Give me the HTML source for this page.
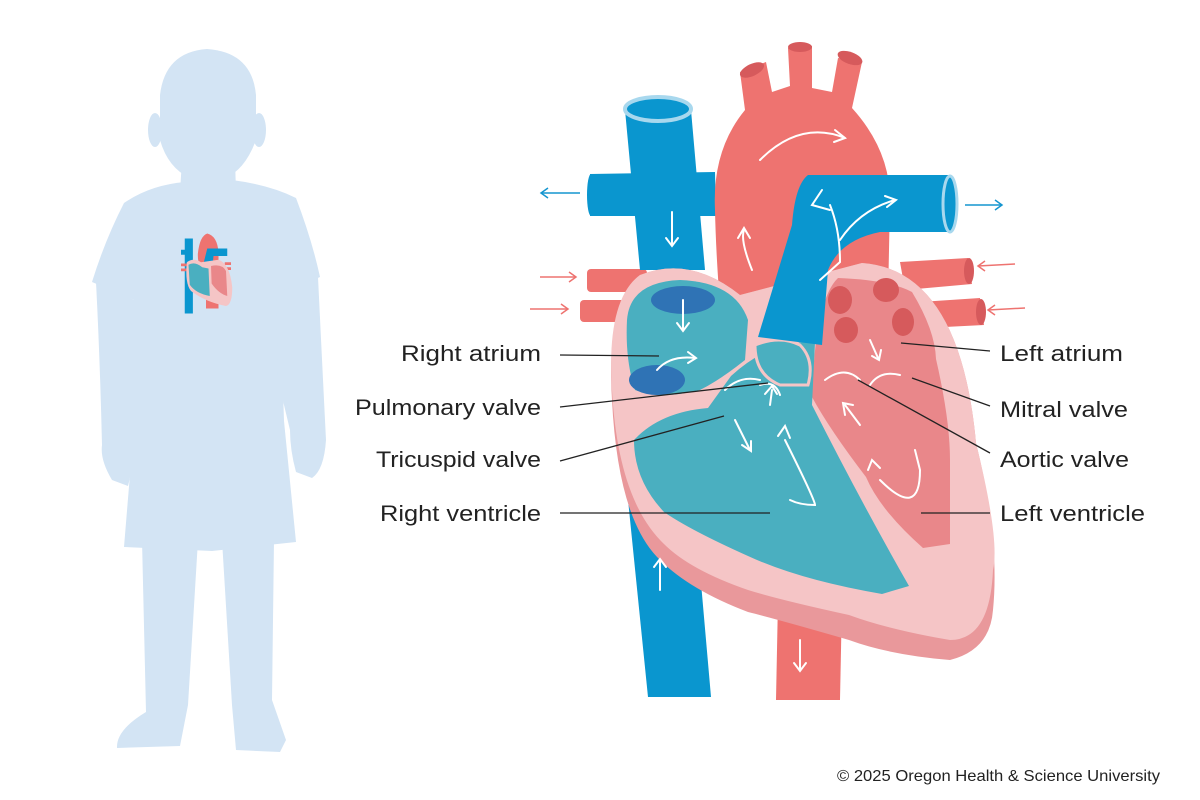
<!DOCTYPE html>
<html><head><meta charset="utf-8"><style>
html,body{margin:0;padding:0;background:#fff}
svg{display:block}
text{font-family:"Liberation Sans",sans-serif;fill:#222}
</style></head><body>
<svg width="1200" height="800" viewBox="0 0 1200 800" xmlns="http://www.w3.org/2000/svg">
<!-- child silhouette -->
<g fill="#d3e4f4">
<path d="M160 95 Q165 52 207 49 Q252 52 256 95 L256 140 Q245 170 225 178 L190 178 Q168 168 160 140 Z"/>
<ellipse cx="155" cy="130" rx="7" ry="17"/>
<ellipse cx="259" cy="130" rx="7" ry="17"/>
<path d="M182 160 L235 160 L236 192 L180 192 Z"/>
<path d="M124 203 Q150 185 185 182 L232 180 Q270 185 296 198 Q312 240 320 277 L280 295 L284 421 L296 542 L212 551 L124 547 L134 426 L134 300 L92 282 Q105 240 124 203 Z"/>
<path d="M96 282 L134 300 L136 440 Q132 470 128 486 L112 480 Q100 460 102 445 Q100 360 96 282 Z"/>
<path d="M276 293 L318 277 Q322 360 326 440 Q324 470 312 478 L296 472 Q290 450 290 430 L278 380 Z"/>
<path d="M142 540 L198 540 L188 705 L180 746 L117 748 Q116 730 146 712 Z"/>
<path d="M222 540 L274 540 L272 700 L286 740 L280 752 L236 750 L232 705 Z"/>
</g>
<!-- mini heart -->
<g transform="translate(181,231) scale(0.125)">
<rect x="30" y="60" width="65" height="600" fill="#0a96cf"/>
<rect x="0" y="150" width="60" height="40" fill="#0a96cf"/>
<rect x="0" y="260" width="50" height="22" fill="#ee7370"/>
<rect x="0" y="300" width="50" height="22" fill="#ee7370"/>
<rect x="350" y="250" width="50" height="22" fill="#ee7370"/>
<rect x="350" y="290" width="50" height="22" fill="#ee7370"/>
<path d="M135 180 Q150 40 210 20 Q290 40 300 170 L300 620 L200 620 L200 300 Q130 300 135 180Z" fill="#ee7370"/>
<path d="M180 260 L210 140 L370 140 L370 200 L260 200 L250 300 Z" fill="#0a96cf"/>
<path d="M47 250 Q100 210 160 250 L300 230 Q390 260 410 450 Q410 590 360 600 Q200 570 80 480 Q30 420 47 250Z" fill="#f5c5c6"/>
<path d="M60 270 Q110 240 170 290 L220 300 L230 520 Q120 500 70 430 Z" fill="#4aafc0"/>
<path d="M240 280 Q330 260 360 320 L370 520 Q300 500 245 420 Z" fill="#e9878a"/>
</g>

<!-- Heart diagram -->
<rect x="587" y="269" width="60" height="23" rx="4" fill="#ee7370"/>
<rect x="580" y="300" width="60" height="22" rx="4" fill="#ee7370"/>
<path d="M900 262 L968 258 L972 284 L905 290 Z" fill="#ee7370"/>
<ellipse cx="969" cy="271" rx="5" ry="13" fill="#d65a5c"/>
<path d="M920 302 L980 298 L984 325 L925 328 Z" fill="#ee7370"/>
<ellipse cx="981" cy="312" rx="5" ry="13" fill="#d65a5c"/>
<path d="M778 600 L842 600 L840 700 L776 700 Z" fill="#ee7370"/>
<!-- vena cava -->
<path d="M625 110 L691 110 L705 270 L640 270 Z" fill="#0a96cf"/>
<path d="M590 174 L715 172 L716 216 L590 216 Z" fill="#0a96cf"/>
<ellipse cx="591" cy="195" rx="4" ry="21" fill="#0a96cf"/>
<ellipse cx="658" cy="109" rx="33" ry="12" fill="#0a96cf" stroke="#a8d8ee" stroke-width="4"/>
<path d="M626 480 L692 480 L711 697 L648 697 Z" fill="#0a96cf"/>
<!-- aorta arch (solid) -->
<path d="M715 210 Q712 150 745 110 L740 72 L766 62 L772 92 L790 86 L788 48 L812 46 L812 88 L832 92 L838 58 L862 62 L852 108 Q890 150 890 200 L888 300 L722 330 Q716 260 715 210 Z" fill="#ee7370"/>
<ellipse cx="752" cy="70" rx="13" ry="6" transform="rotate(-25 752 70)" fill="#d65a5c"/>
<ellipse cx="800" cy="47" rx="12" ry="5" fill="#d65a5c"/>
<ellipse cx="850" cy="58" rx="13" ry="6" transform="rotate(20 850 58)" fill="#d65a5c"/>
<!-- heart body -->
<path d="M612 400 Q606 300 640 275 Q690 255 740 295 L862 263 Q960 270 976 443 Q1000 540 993 610 Q990 650 950 660 Q890 655 849 640 Q780 620 748 612 Q690 590 660 560 Q618 520 612 400 Z" fill="#e9989b"/>
<path d="M612 390 Q606 300 640 275 Q690 255 740 295 L862 263 Q960 270 976 443 Q1000 540 993 570 Q990 640 950 640 Q890 630 849 615 Q780 600 748 590 Q690 570 664 544 Q618 500 612 390 Z" fill="#f5c5c6"/>
<path d="M812 397 Q815 300 838 278 Q890 280 912 292 Q935 330 936 359 Q950 420 950 460 L950 544 L923 548 Q880 510 866 477 Q830 430 812 397 Z" fill="#e9878a"/>
<ellipse cx="840" cy="300" rx="12" ry="14" fill="#d65a5c"/>
<ellipse cx="886" cy="290" rx="13" ry="12" fill="#d65a5c"/>
<ellipse cx="903" cy="322" rx="11" ry="14" fill="#d65a5c"/>
<ellipse cx="846" cy="330" rx="12" ry="13" fill="#d65a5c"/>
<path d="M627 320 Q630 282 680 280 Q735 282 748 320 L745 360 Q720 380 700 390 Q660 400 635 390 Q625 360 627 320 Z" fill="#4aafc0"/>
<ellipse cx="683" cy="300" rx="32" ry="14" fill="#2f73b5"/>
<ellipse cx="657" cy="380" rx="28" ry="15" fill="#2f73b5"/>
<path d="M634 440 Q660 412 708 408 L731 376 Q770 340 815 342 L812 405 Q860 500 909 586 L882 594 Q800 580 748 556 Q690 530 664 512 Q634 480 634 440 Z" fill="#4aafc0"/>
<path d="M755 345 Q780 335 800 345 Q815 360 808 385 L780 385 Q755 375 755 345Z" fill="#4aafc0" stroke="#f5c5c6" stroke-width="3"/>
<!-- pulmonary artery -->
<path d="M758 337 L792 225 Q795 185 808 175 L950 175 L950 232 L880 232 Q840 240 828 270 L822 345 Z" fill="#0a96cf"/>
<ellipse cx="950" cy="204" rx="7" ry="28" fill="#0a96cf" stroke="#a8d8ee" stroke-width="3"/>
<g stroke="#fff" stroke-width="2" fill="none" stroke-linecap="round">
<path d="M760 160 Q800 120 845 138"/><path d="M835 130 L845 138 L834 142"/>
<path d="M752 270 Q740 240 744 230"/><path d="M738 238 L744 228 L750 238"/>
<path d="M820 280 L840 262 Q840 230 830 205"/><path d="M830 210 L812 205 L822 190"/>
<path d="M840 240 Q860 210 895 200"/><path d="M885 196 L896 200 L887 207"/>
<path d="M672 212 L672 245"/><path d="M666 238 L672 246 L678 238"/>
<path d="M683 300 L683 330"/><path d="M677 323 L683 331 L689 323"/>
<path d="M657 370 Q670 355 695 358"/><path d="M688 352 L696 358 L688 363"/>
<path d="M735 420 L750 450"/><path d="M742 445 L751 451 L751 441"/>
<path d="M770 405 L772 390"/><path d="M765 394 L772 386 L777 394"/>
<path d="M785 440 Q815 500 815 505 Q800 505 790 500"/><path d="M778 436 L785 426 L790 438"/>
<path d="M870 340 L878 358"/><path d="M872 356 L879 360 L881 350"/>
<path d="M880 480 Q920 520 920 470 L915 450"/><path d="M868 470 L872 460 L880 468"/>
<path d="M845 405 L860 425"/><path d="M845 415 L843 403 L853 405"/>
<path d="M660 590 L660 560"/><path d="M654 567 L660 559 L666 567"/>
<path d="M800 640 L800 670"/><path d="M794 663 L800 671 L806 663"/>
<path d="M725 390 Q740 375 760 380"/><path d="M760 385 Q775 380 780 395"/>
<path d="M825 380 Q845 365 860 380"/><path d="M870 385 Q880 370 900 375"/>
</g>
<g stroke-width="1.5" fill="none">
<g stroke="#1595cf"><path d="M580 193 L542 193"/><path d="M548 188 L541 193 L548 198"/>
<path d="M965 205 L1002 205"/><path d="M995 200 L1002 205 L995 210"/></g>
<g stroke="#ee7370"><path d="M540 277 L576 277"/><path d="M569 272 L576 277 L569 282"/>
<path d="M530 309 L568 309"/><path d="M561 304 L568 309 L561 314"/>
<path d="M1015 264 L978 266"/><path d="M985 261 L978 266 L985 271"/>
<path d="M1025 308 L988 310"/><path d="M995 305 L988 310 L995 315"/></g>
</g>
<g stroke="#222" stroke-width="1.3">
<line x1="560" y1="355" x2="659" y2="356"/>
<line x1="560" y1="407" x2="768" y2="383"/>
<line x1="560" y1="461" x2="724" y2="416"/>
<line x1="560" y1="513" x2="770" y2="513"/>
<line x1="990" y1="351" x2="901" y2="343"/>
<line x1="990" y1="406" x2="912" y2="378"/>
<line x1="990" y1="453" x2="858" y2="380"/>
<line x1="990" y1="513" x2="921" y2="513"/>
</g>
<g font-size="22">
<text x="541" y="361" text-anchor="end" textLength="140" lengthAdjust="spacingAndGlyphs">Right atrium</text>
<text x="541" y="415" text-anchor="end" textLength="186" lengthAdjust="spacingAndGlyphs">Pulmonary valve</text>
<text x="541" y="467" text-anchor="end" textLength="165" lengthAdjust="spacingAndGlyphs">Tricuspid valve</text>
<text x="541" y="521" text-anchor="end" textLength="161" lengthAdjust="spacingAndGlyphs">Right ventricle</text>
<text x="1000" y="361" textLength="123" lengthAdjust="spacingAndGlyphs">Left atrium</text>
<text x="1000" y="417" textLength="128" lengthAdjust="spacingAndGlyphs">Mitral valve</text>
<text x="1000" y="467" textLength="129" lengthAdjust="spacingAndGlyphs">Aortic valve</text>
<text x="1000" y="521" textLength="145" lengthAdjust="spacingAndGlyphs">Left ventricle</text>
</g>
<text x="837" y="781" font-size="16" textLength="323" lengthAdjust="spacingAndGlyphs">© 2025 Oregon Health &amp; Science University</text>
</svg>
</body></html>
